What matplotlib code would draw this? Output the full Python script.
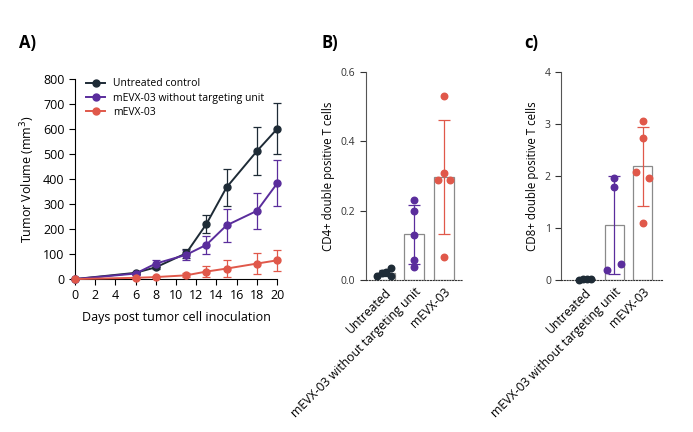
import numpy as np
import matplotlib.pyplot as plt
from matplotlib.lines import Line2D

plt.rcParams['font.family'] = ['Open Sans', 'DejaVu Sans']

# Panel A data: tumour growth
days = [0, 6, 8, 11, 13, 15, 18, 20]
untreated_mean = [0, 25, 47, 103, 220, 367, 512, 601]
untreated_err = [0, 5, 8, 18, 35, 75, 95, 102]
notarget_mean = [0, 22, 62, 97, 137, 215, 273, 383]
notarget_err = [0, 5, 15, 20, 37, 67, 72, 92]
mevx_mean = [0, 5, 8, 15, 30, 42, 62, 75]
mevx_err = [0, 3, 5, 8, 22, 33, 43, 42]

# Panels B/C data: individual animals
groups = ['Untreated', 'mEVX-03 without targeting unit', 'mEVX-03']
cd4_untreated = [0.012, 0.020, 0.024, 0.034, 0.012]
cd4_notarget = [0.231, 0.200, 0.130, 0.058, 0.037]
cd4_mevx = [0.53, 0.31, 0.29, 0.29, 0.066]
cd8_untreated = [0.0, 0.01, 0.02, 0.02]
cd8_notarget = [1.97, 1.78, 0.20, 0.30]
cd8_mevx = [3.05, 2.73, 2.08, 1.97, 1.10]

c_black = '#1e2b36'
c_purple = '#5a2d9c'
c_red = '#e0584a'

fig = plt.figure(figsize=(6.93, 4.32), dpi=100)

# ---- A) line chart
ax = fig.add_axes([0.108, 0.354, 0.292, 0.463])
handles = []
for m, e, col, lab in [(untreated_mean, untreated_err, c_black, 'Untreated control'),
                       (notarget_mean, notarget_err, c_purple, 'mEVX-03 without targeting unit'),
                       (mevx_mean, mevx_err, c_red, 'mEVX-03')]:
    ax.errorbar(days, m, yerr=e, color=col, marker='o', ms=5, lw=1.4,
                elinewidth=0.9, capsize=3, capthick=0.9, ecolor=col,
                clip_on=False, zorder=3)
    handles.append(Line2D([], [], color=col, marker='o', ms=5, lw=1.4, label=lab))
ax.set_xlim(0, 20)
ax.set_ylim(0, 800)
ax.set_xticks(range(0, 21, 2))
ax.set_yticks(range(0, 801, 100))
ax.tick_params(labelsize=9, width=0.8, length=4)
ax.set_xlabel('Days post tumor cell inoculation', fontsize=9, labelpad=6)
ax.set_ylabel('Tumor Volume (mm$^3$)', fontsize=9)
for s in ['top', 'right']:
    ax.spines[s].set_visible(False)
ax.legend(handles=handles, loc='upper left', bbox_to_anchor=(0.01, 1.05), frameon=False,
          fontsize=7.5, handlelength=1.8, labelspacing=0.3, handletextpad=0.8)
fig.text(0.028, 0.888, 'A)', fontsize=12, fontweight='bold')


def scatter_bar(ax, data, cols, width, offsets, ymax, yticks, fmt, ylabel):
    for i, (vals, col) in enumerate(zip(data, cols)):
        vals = np.array(vals)
        mean = vals.mean()
        sd = vals.std(ddof=1)
        ax.bar(i, mean, width=width, color='white', edgecolor='#8a8a8a', lw=0.9, zorder=1)
        ax.errorbar(i, mean, yerr=sd, color=col, capsize=4, elinewidth=0.9,
                    capthick=0.9, zorder=2)
        ax.scatter(i + np.array(offsets[i]), vals, s=22, color=col, zorder=3,
                   clip_on=False)
    ax.set_ylim(0, ymax)
    ax.set_yticks(yticks)
    ax.set_yticklabels([fmt.format(t) for t in yticks])
    ax.set_xticks(range(len(groups)))
    ax.set_xticklabels(groups, rotation=45, ha='right', rotation_mode='anchor',
                       fontsize=8.8)
    ax.tick_params(axis='x', length=0, pad=4)
    ax.tick_params(axis='y', labelsize=7.5, width=0.8, length=4, colors='#333333')
    ax.set_ylabel(ylabel, fontsize=8.3)
    for s in ['top', 'right']:
        ax.spines[s].set_visible(False)
    ax.spines['left'].set_color('#555555')
    ax.spines['bottom'].set_linestyle((0, (1, 1.5)))
    ax.spines['bottom'].set_color('#333333')


# ---- B) CD4+
axb = fig.add_axes([0.528, 0.352, 0.140, 0.481])
scatter_bar(axb, [cd4_untreated, cd4_notarget, cd4_mevx], [c_black, c_purple, c_red],
            0.68, [[-0.25, -0.1, 0.05, 0.22, 0.22], [0.0] * 5, [0.0, 0.0, -0.2, 0.2, 0.0]],
            0.6, [0.0, 0.2, 0.4, 0.6], '{:.1f}', 'CD4+ double positive T cells')
axb.set_xlim(-0.64, 2.64)
fig.text(0.464, 0.888, 'B)', fontsize=12, fontweight='bold')

# ---- C) CD8+
axc = fig.add_axes([0.810, 0.352, 0.145, 0.481])
scatter_bar(axc, [cd8_untreated, cd8_notarget, cd8_mevx], [c_black, c_purple, c_red],
            0.66, [[-0.2, -0.07, 0.07, 0.2], [0.0, 0.0, -0.25, 0.25],
                   [0.0, 0.0, -0.25, 0.2, 0.0]],
            4, [0, 1, 2, 3, 4], '{:d}', 'CD8+ double positive T cells')
axc.set_xlim(-0.83, 2.66)
fig.text(0.757, 0.888, 'c)', fontsize=12, fontweight='bold')

fig.savefig('out.png', dpi=100)
